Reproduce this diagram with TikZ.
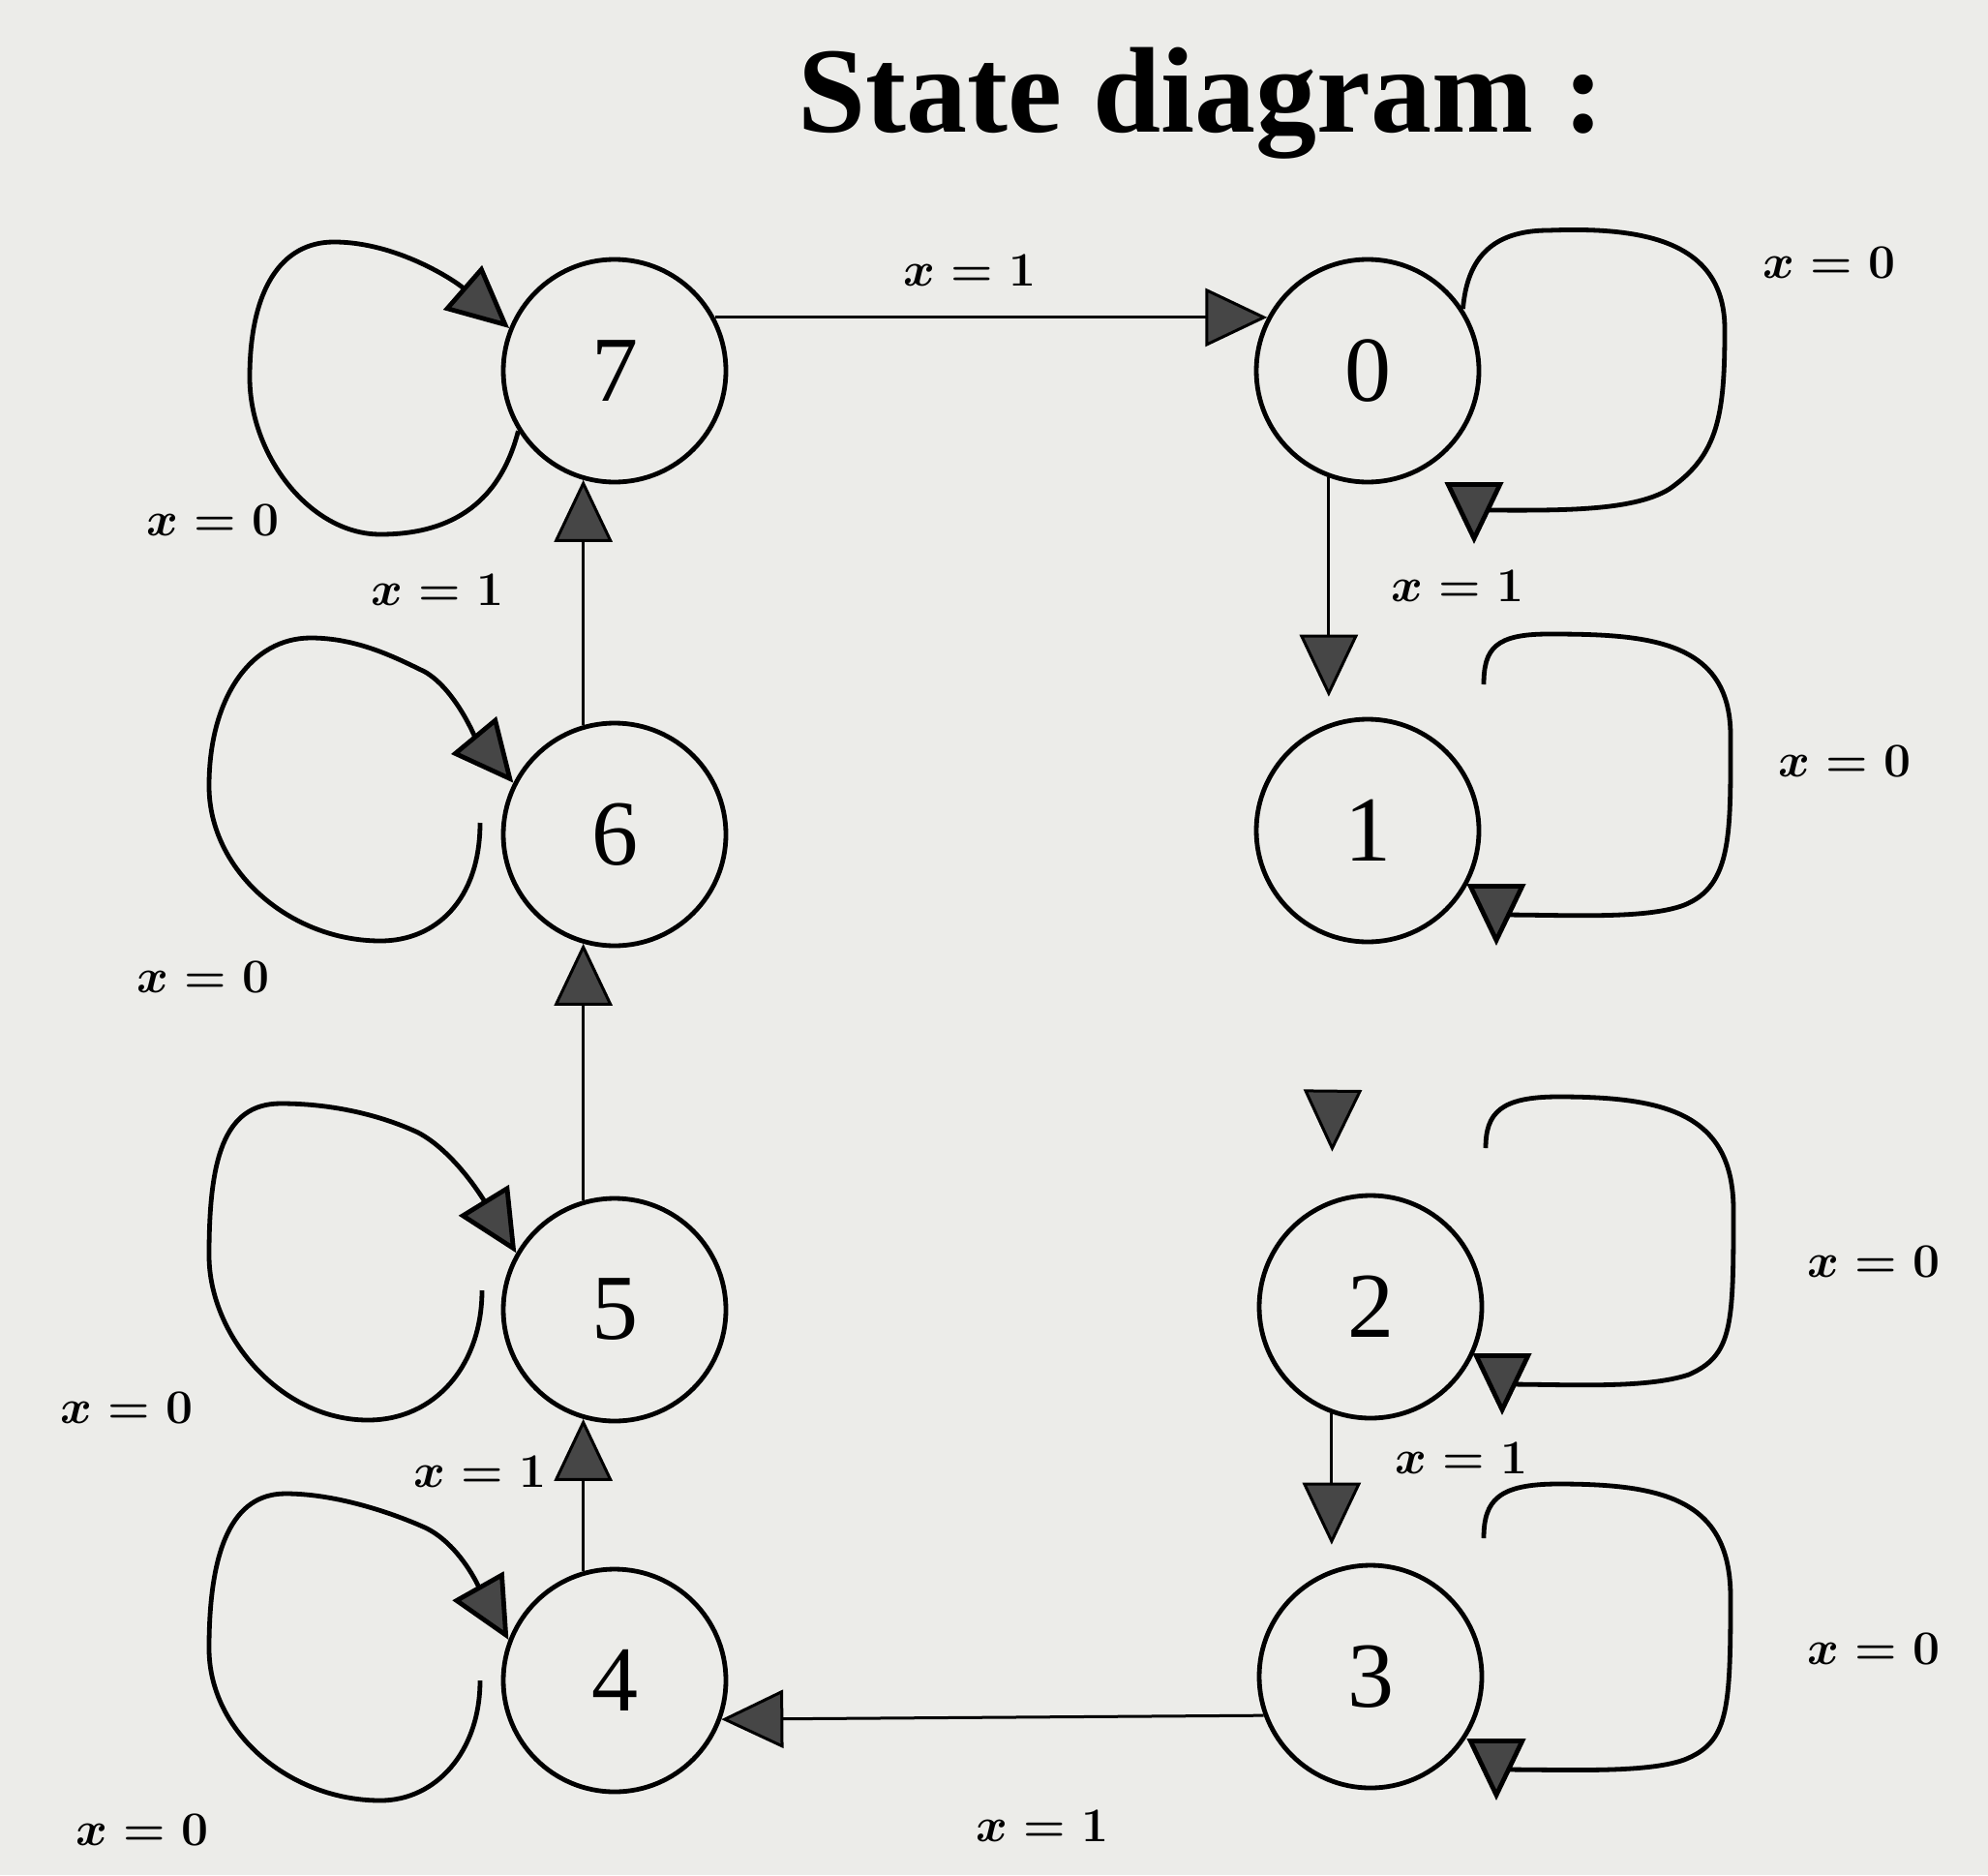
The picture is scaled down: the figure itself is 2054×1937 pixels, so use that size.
\documentclass[tikz,border=0pt]{standalone}
\usepackage{fontspec}
\setmainfont{Liberation Serif}
\usetikzlibrary{arrows.meta}
\definecolor{paper}{RGB}{236,236,233}
\definecolor{headfill}{RGB}{70,70,70}
\begin{document}
\begin{tikzpicture}[x=0.5pt,y=-0.5pt,
  state/.style={circle,draw,line width=2.4pt,minimum size=115pt,inner sep=0pt,font=\fontsize{48}{50}\selectfont},
  lbl/.style={font=\fontsize{36}{38}\selectfont\boldmath},
  tri/.style={-{Triangle[length=32pt,width=30pt,fill=headfill]}},
  edgeline/.style={line width=1.5pt,tri},
  selfloop/.style={line width=2.4pt,tri},
]
\fill[paper] (0,0) rectangle (2054,1937);
\useasboundingbox (0,0) rectangle (2054,1937);

\node[font=\fontsize{63}{68}\selectfont\bfseries, anchor=base] (title) at (1241,137) {State diagram :};

\node[state] (s7) at (635,383) {7};
\node[state] (s0) at (1413,383) {0};
\node[state] (s1) at (1413,858) {1};
\node[state] (s6) at (635,862) {6};
\node[state] (s2) at (1416,1350) {2};
\node[state] (s5) at (635,1353) {5};
\node[state] (s3) at (1416,1732) {3};
\node[state] (s4) at (635,1736) {4};

% straight transitions
\draw[edgeline] (s7.28) -- (s0.152);
\draw[edgeline,shorten >=14pt] (s0.250) -- (s1.110);
\coordinate (c12) at (1377,1128);
\draw[edgeline,shorten >=25pt] (c12) -- (s2.110);
\draw[edgeline,shorten >=13pt] (s2.250) -- (s3.110);
\draw[edgeline] (s3.200) -- (s4.340);
\draw[edgeline] (s4.106) -- (s5.254);
\draw[edgeline] (s5.106) -- (s6.254);
\draw[edgeline] (s6.106) -- (s7.254);

% left self loops
\draw[selfloop] (s7.212) .. controls (515,525) and (460,552) .. (393,552)
  .. controls (320,552) and (258,470) .. (258,390)
  .. controls (258,300) and (290,250) .. (345,250)
  .. controls (410,250) and (470,290) .. (s7.158);

\coordinate (l6) at (496,850);
\draw[selfloop] (l6) .. controls (496,930) and (450,972) .. (393,972)
  .. controls (300,972) and (216,900) .. (216,812)
  .. controls (216,720) and (260,659) .. (321,659)
  .. controls (370,659) and (410,680) .. (439,694)
  .. controls (470,712) and (490,760) .. (s6.153);

\coordinate (l5) at (498,1333);
\draw[selfloop] (l5) .. controls (498,1410) and (450,1467) .. (380,1467)
  .. controls (290,1467) and (216,1380) .. (216,1297)
  .. controls (216,1200) and (230,1140) .. (290,1140)
  .. controls (350,1140) and (400,1155) .. (432,1170)
  .. controls (470,1190) and (500,1240) .. (s5.150);

\coordinate (l4) at (496,1736);
\draw[selfloop] (l4) .. controls (496,1810) and (450,1860) .. (393,1860)
  .. controls (300,1860) and (216,1790) .. (216,1703)
  .. controls (216,1600) and (240,1543) .. (295,1543)
  .. controls (350,1543) and (410,1565) .. (439,1578)
  .. controls (475,1595) and (495,1640) .. (s4.159);

% right self loops
\draw[selfloop] (s0.33) .. controls (1515,280) and (1530,238) .. (1600,238)
  .. controls (1700,234) and (1782,250) .. (1782,340)
  .. controls (1782,430) and (1775,470) .. (1725,505)
  .. controls (1685,530) and (1600,527) .. (1523,527) -- (1523,562);

\coordinate (l1) at (1533,707);
\draw[selfloop] (l1) .. controls (1533,670) and (1545,655) .. (1600,655)
  .. controls (1700,655) and (1788,660) .. (1788,760)
  .. controls (1788,860) and (1790,915) .. (1740,935)
  .. controls (1700,950) and (1620,945) .. (1546,945) -- (1546,977);

\coordinate (l2) at (1535,1186);
\draw[selfloop] (l2) .. controls (1535,1150) and (1550,1133) .. (1610,1133)
  .. controls (1720,1133) and (1791,1150) .. (1791,1250)
  .. controls (1791,1370) and (1790,1400) .. (1745,1420)
  .. controls (1700,1435) and (1620,1430) .. (1552,1430) -- (1552,1462);

\coordinate (l3) at (1533,1589);
\draw[selfloop] (l3) .. controls (1533,1550) and (1548,1533) .. (1610,1533)
  .. controls (1720,1533) and (1788,1550) .. (1788,1650)
  .. controls (1788,1770) and (1785,1800) .. (1740,1818)
  .. controls (1700,1832) and (1620,1828) .. (1546,1828) -- (1546,1860);

% labels
\node[lbl] (t70) at (1002,279) {$x=1$};
\node[lbl] (t00) at (1890,271) {$x=0$};
\node[lbl] (t77) at (220,537) {$x=0$};
\node[lbl] (t67) at (452,609) {$x=1$};
\node[lbl] (t01) at (1506,605) {$x=1$};
\node[lbl] (t11) at (1906,786) {$x=0$};
\node[lbl] (t66) at (210,1009) {$x=0$};
\node[lbl] (t22) at (1936,1303) {$x=0$};
\node[lbl] (t55) at (131,1454) {$x=0$};
\node[lbl] (t45) at (496,1520) {$x=1$};
\node[lbl] (t23) at (1510,1506) {$x=1$};
\node[lbl] (t33) at (1936,1703) {$x=0$};
\node[lbl] (t34) at (1077,1886) {$x=1$};
\node[lbl] (t44) at (147,1890) {$x=0$};
\end{tikzpicture}
\end{document}
